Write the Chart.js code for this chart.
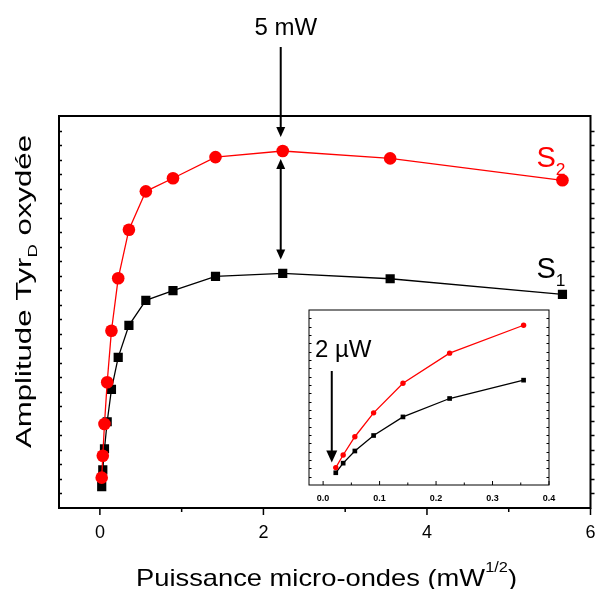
<!DOCTYPE html>
<html lang="fr">
<head>
    <meta charset="UTF-8">
    <title>Amplitude Tyr D oxydée</title>
    <script src="https://cdn.jsdelivr.net/npm/chart.js@4.4.0/dist/chart.umd.min.js"></script>
    <style>
        body { margin: 0; background: #fff; }
        #wrap { position: relative; width: 597px; height: 589px; }
        #main { position: absolute; left: 0; top: 0; }
        #inset { position: absolute; left: 289px; top: 300px; }
    </style>
</head>
<body>
<div id="wrap">
    <canvas id="main" width="597" height="589"></canvas>
    <canvas id="inset" width="280" height="215"></canvas>
</div>
<script>
    // racine de la puissance micro-ondes (mW^1/2)
    const power = [0.0224, 0.0355, 0.0562, 0.0894, 0.1414, 0.224, 0.355, 0.562, 0.894, 1.414, 2.236, 3.55, 5.657]
    // amplitude Tyr D oxydée (unités arbitraires)
    const s2 = [2.09, 3.60, 5.79, 8.66, 12.21, 15.82, 19.17, 21.81, 22.71, 24.17, 24.59, 24.08, 22.57]
    const s1 = [1.47, 2.62, 4.08, 5.94, 8.17, 10.38, 12.58, 14.30, 14.97, 15.96, 16.16, 15.79, 14.72]
    const insetCount = 7

    const FONT = '"Liberation Sans", Arial, sans-serif'
    const RED = '#ff0000'
    Chart.defaults.font.family = FONT
    Chart.defaults.color = '#000'

    function pts(xs, ys) {
        return xs.map((v, i) => ({x: v, y: ys[i]}))
    }

    // text with sub / superscripts, optionally stretched to a given width
    function richText(ctx, parts, x, y, size, width, align) {
        const fontFor = k => (k ? size * 0.6 : size) + 'px ' + FONT
        let total = 0
        parts.forEach(p => {
            ctx.font = fontFor(p[1])
            total += ctx.measureText(p[0]).width
        })
        const sx = width ? width / total : 1
        ctx.save()
        ctx.translate(x, y)
        ctx.scale(sx, 1)
        ctx.textAlign = 'left'
        ctx.textBaseline = 'alphabetic'
        let cx = align === 'center' ? -total / 2 : 0
        parts.forEach(p => {
            ctx.font = fontFor(p[1])
            const dy = p[1] > 0 ? -size * 0.58 : (p[1] < 0 ? size * 0.28 : 0)
            ctx.fillText(p[0], cx, dy)
            cx += ctx.measureText(p[0]).width
        })
        ctx.restore()
    }

    function arrowHead(ctx, x, y, dir, len, w) {
        ctx.beginPath()
        ctx.moveTo(x, y)
        ctx.lineTo(x - w / 2, y - dir * len)
        ctx.lineTo(x + w / 2, y - dir * len)
        ctx.closePath()
        ctx.fill()
    }

    function noOverhang(s, h) {
        s.height = h
        s.paddingLeft = 0
        s.paddingRight = 0
    }

    const framePlugin = {
        id: 'frame',
        afterDraw(chart, args, opts) {
            const {ctx, chartArea: {left, top, right, bottom}} = chart
            ctx.save()
            ctx.strokeStyle = '#000'
            ctx.lineWidth = opts.width
            ctx.strokeRect(left, top, right - left, bottom - top)
            ctx.lineWidth = opts.tickWidth
            ctx.beginPath()
            opts.xTicks.forEach(t => {
                const px = chart.scales.x.getPixelForValue(t[0])
                ctx.moveTo(px, bottom)
                ctx.lineTo(px, bottom + t[1] * opts.xDir)
            })
            for (let v = opts.yFrom; v <= opts.yTo; v++) {
                const py = Math.round(chart.scales.y.getPixelForValue(v)) + 0.5
                ctx.moveTo(left, py)
                ctx.lineTo(left + opts.yLeft, py)
                ctx.moveTo(right, py)
                ctx.lineTo(right + opts.yRight, py)
            }
            ctx.stroke()
            ctx.restore()
        }
    }

    const mainNotes = {
        id: 'mainNotes',
        afterDraw(chart) {
            const {ctx, scales: {x, y}} = chart
            const peak = s2.indexOf(Math.max(...s2))
            const ax = x.getPixelForValue(power[peak]) - 2
            const yRed = y.getPixelForValue(s2[peak])
            const yBlack = y.getPixelForValue(s1[peak])
            ctx.save()
            ctx.fillStyle = '#000'
            ctx.strokeStyle = '#000'
            ctx.lineWidth = 2

            richText(ctx, [['5 mW', 0]], ax + 5, 35, 24, 0, 'center')

            // single arrow pointing at 5 mW
            const tip1 = yRed - 14
            ctx.beginPath()
            ctx.moveTo(ax, 47)
            ctx.lineTo(ax, tip1 - 8)
            ctx.stroke()
            arrowHead(ctx, ax, tip1, 1, 10, 9)

            // double arrow between the two curves
            const tipA = yRed + 8
            const tipB = yBlack - 14
            ctx.beginPath()
            ctx.moveTo(ax, tipA + 8)
            ctx.lineTo(ax, tipB - 8)
            ctx.stroke()
            arrowHead(ctx, ax, tipA, -1, 10, 9)
            arrowHead(ctx, ax, tipB, 1, 10, 9)

            // curve names
            const last = power.length - 1
            const lx = x.getPixelForValue(power[last]) - 26
            ctx.fillStyle = RED
            richText(ctx, [['S', 0], ['2', -1]], lx, y.getPixelForValue(s2[last]) - 13, 29, 0, 'left')
            ctx.fillStyle = '#000'
            richText(ctx, [['S', 0], ['1', -1]], lx, y.getPixelForValue(s1[last]) - 16, 29, 0, 'left')

            // axis titles
            richText(ctx, [['Puissance micro-ondes (mW', 0], ['1/2', 1], [')', 0]], 326.5, 586, 24, 381, 'center')
            ctx.translate(31, 291.5)
            ctx.rotate(-Math.PI / 2)
            richText(ctx, [['Amplitude Tyr', 0], ['D', -1], [' oxydée', 0]], 0, 0, 22, 313, 'center')
            ctx.restore()
        }
    }

    const insetNotes = {
        id: 'insetNotes',
        afterDraw(chart) {
            const {ctx, chartArea: {left, top}, scales: {x, y}} = chart
            const ax = x.getPixelForValue(power[0]) - 4
            const tip = y.getPixelForValue(s2[0]) - 5
            ctx.save()
            ctx.fillStyle = '#000'
            ctx.strokeStyle = '#000'
            ctx.lineWidth = 2
            richText(ctx, [['2 µW', 0]], left + 6, top + 47, 24, 0, 'left')
            ctx.beginPath()
            ctx.moveTo(ax, top + 61)
            ctx.lineTo(ax, tip - 10)
            ctx.stroke()
            arrowHead(ctx, ax, tip, 1, 12, 11)
            ctx.restore()
        }
    }

    const mainXTicks = [0, 1, 2, 3, 4, 5, 6].map(v => [v, v % 2 === 0 ? 7 : 4])
    const insetXTicks = [0, 0.05, 0.1, 0.15, 0.2, 0.25, 0.3, 0.35, 0.4].map((v, i) => [v, i % 2 === 0 ? 4 : 2.5])

    new Chart(document.getElementById('main'), {
        type: 'line',
        data: {
            datasets: [
                {
                    label: 'S2',
                    data: pts(power, s2),
                    borderColor: RED,
                    backgroundColor: RED,
                    pointStyle: 'circle',
                    pointRadius: 6.3,
                    pointBorderWidth: 0,
                    borderWidth: 1.3,
                },
                {
                    label: 'S1',
                    data: pts(power, s1),
                    borderColor: '#000',
                    backgroundColor: '#000',
                    pointStyle: 'rect',
                    pointRadius: 6.5,
                    pointBorderWidth: 0,
                    borderWidth: 1.3,
                },
            ],
        },
        options: {
            responsive: false,
            animation: false,
            devicePixelRatio: 1,
            layout: {
                padding: {top: 116, right: 5, left: 0, bottom: 0},
            },
            plugins: {
                legend: {display: false},
                tooltip: {enabled: false},
                frame: {width: 2, tickWidth: 1.5, xTicks: mainXTicks, xDir: 1, yFrom: 1, yTo: 26, yLeft: 3, yRight: 4},
            },
            scales: {
                x: {
                    type: 'linear',
                    min: -0.5,
                    max: 6,
                    grid: {display: false, drawTicks: false},
                    border: {display: false},
                    ticks: {stepSize: 2, includeBounds: false, color: '#000', font: {size: 18}, padding: 14},
                    afterFit: s => noOverhang(s, 81),
                },
                y: {
                    min: 0,
                    max: 27,
                    grid: {display: false, drawTicks: false},
                    border: {display: false},
                    ticks: {display: false},
                    afterFit: s => { s.width = 59 },
                },
            },
        },
        plugins: [framePlugin, mainNotes],
    })

    new Chart(document.getElementById('inset'), {
        type: 'line',
        data: {
            datasets: [
                {
                    label: 'S2',
                    data: pts(power.slice(0, insetCount), s2.slice(0, insetCount)),
                    borderColor: RED,
                    backgroundColor: RED,
                    pointStyle: 'circle',
                    pointRadius: 2.7,
                    pointBorderWidth: 0,
                    borderWidth: 1.3,
                },
                {
                    label: 'S1',
                    data: pts(power.slice(0, insetCount), s1.slice(0, insetCount)),
                    borderColor: '#000',
                    backgroundColor: '#000',
                    pointStyle: 'rect',
                    pointRadius: 3.3,
                    pointBorderWidth: 0,
                    borderWidth: 1.3,
                },
            ],
        },
        options: {
            responsive: false,
            animation: false,
            devicePixelRatio: 1,
            layout: {
                padding: {top: 10, right: 20, left: 0, bottom: 0},
            },
            plugins: {
                legend: {display: false},
                tooltip: {enabled: false},
                frame: {width: 1, tickWidth: 1, xTicks: insetXTicks, xDir: -1, yFrom: 1, yTo: 20, yLeft: 2.5, yRight: -2.5},
            },
            scales: {
                x: {
                    type: 'linear',
                    min: -0.025,
                    max: 0.4,
                    grid: {display: false, drawTicks: false},
                    border: {display: false},
                    ticks: {stepSize: 0.1, includeBounds: false, color: '#000', font: {size: 9, weight: 'bold'}, padding: 8, callback: v => v.toFixed(1)},
                    afterFit: s => noOverhang(s, 30),
                },
                y: {
                    min: 0,
                    max: 21,
                    grid: {display: false, drawTicks: false},
                    border: {display: false},
                    ticks: {display: false},
                    afterFit: s => { s.width = 20 },
                },
            },
        },
        plugins: [framePlugin, insetNotes],
    })
</script>
</body>
</html>
